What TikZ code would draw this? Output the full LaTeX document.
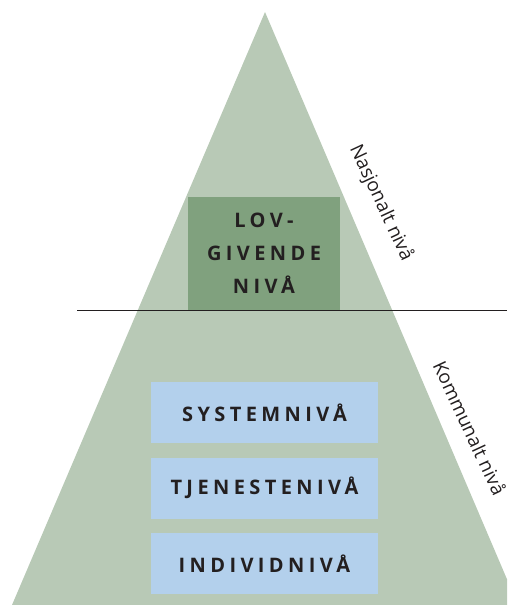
\documentclass[tikz,border=0pt]{standalone}
\usepackage{fontspec}
\setmainfont{Open Sans}
\newfontfamily\spaced[LetterSpace=22]{Open Sans}
\definecolor{pyr}{HTML}{B8C9B6}
\definecolor{lovgreen}{HTML}{80A17E}
\definecolor{lvlblue}{HTML}{B3D0EC}
\definecolor{ink}{HTML}{231F20}

\begin{document}
\begin{tikzpicture}[
            x=1pt, y=-1pt,
            lvl/.style={
              fill=lvlblue,
              minimum width=227pt, minimum height=61pt,
              inner sep=0pt,
              text=ink,
              font=\spaced\bfseries\fontsize{20}{24}\selectfont
            },
            side/.style={
              text=ink, rotate=-65,
              font=\fontsize{19}{22}\selectfont
            }
        ]
    \useasboundingbox (0,0) rectangle (507,605);
    \clip (0,0) rectangle (507,605);
    \def\dy{75.5}

    \fill[pyr] (265,12) -- (12,605) -- (518,605) -- cycle;

    \node[fill=lovgreen, minimum width=152pt, minimum height=113pt,
          inner sep=0pt, text=ink, align=center,
          font=\spaced\bfseries\fontsize{20}{33}\selectfont]
        (lov) at (264,253.5) {LOV-\\GIVENDE\\NIVÅ};

    \coordinate (cutL) at (77,310);
    \coordinate (cutR) at (507,310);
    \draw[line width=1pt, ink] (cutL) -- (cutR);

    \foreach \i/\n in {0/SYSTEMNIVÅ, 1/TJENESTENIVÅ, 2/INDIVIDNIVÅ}
        \node[lvl] (lvl\i) at (264.5,{412.5 + \i*\dy}) {\n};

    \node[side] (nasj) at (381,203) {Nasjonalt nivå};
    \node[side] (komm) at (470,428) {Kommunalt nivå};

    \end{tikzpicture}
\end{document}
